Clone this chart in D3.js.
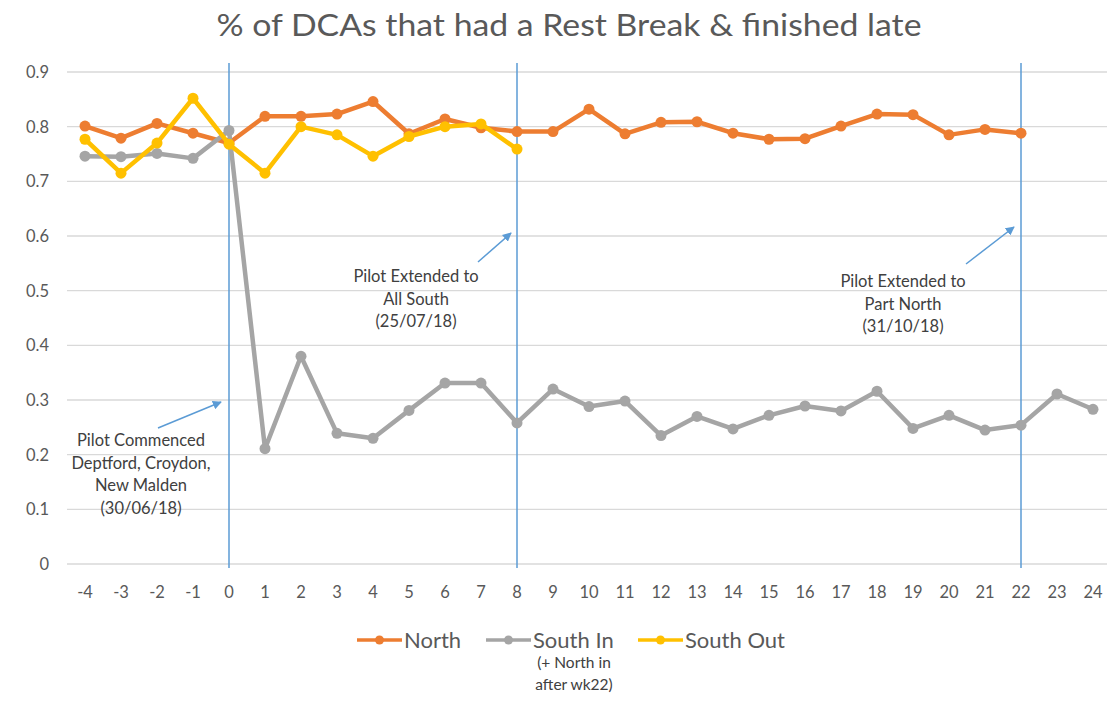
<!DOCTYPE html>
<html>
<head>
<meta charset="utf-8">
<script src="https://cdn.jsdelivr.net/npm/d3@7"></script>
<style>
  body { margin: 0; background: #fff; }
  svg { font-family: Lato, "Open Sans", sans-serif; }
</style>
</head>
<body>
<div id="chart"></div>
<script>
const weeks = d3.range(-4, 25)

// values, null where a series has no point
const north = [0.801, 0.779, 0.806, 0.788, 0.770, 0.819, 0.819, 0.823, 0.846, 0.787,
  0.814, 0.798, 0.791, 0.791, 0.832, 0.787, 0.808, 0.809, 0.788, 0.777,
  0.778, 0.801, 0.823, 0.822, 0.785, 0.795, 0.788, null, null]
const southIn = [0.746, 0.745, 0.751, 0.742, 0.793, 0.211, 0.380, 0.239, 0.230, 0.281,
  0.331, 0.331, 0.258, 0.320, 0.288, 0.298, 0.235, 0.270, 0.247, 0.272,
  0.289, 0.280, 0.316, 0.248, 0.272, 0.245, 0.254, 0.311, 0.283]
const southOut = [0.777, 0.715, 0.770, 0.852, 0.768, 0.715, 0.800, 0.785, 0.746, 0.782,
  0.800, 0.805, 0.759, null, null, null, null, null, null, null,
  null, null, null, null, null, null, null, null, null]

const yTicks = [0, 0.1, 0.2, 0.3, 0.4, 0.5, 0.6, 0.7, 0.8, 0.9]
const markerWeeks = [0, 8, 22]

const series = [
  {name: "North", values: north, color: "#ED7D31"},
  {name: "South In", values: southIn, color: "#A5A5A5"},
  {name: "South Out", values: southOut, color: "#FFC000"}
]

const annotations = [
  {lines: ["Pilot Commenced", "Deptford, Croydon,", "New Malden", "(30/06/18)"],
    x: 141, y: 440, arrow: [[158, 428], [221, 402]]},
  {lines: ["Pilot Extended to", "All South", "(25/07/18)"],
    x: 416, y: 276, arrow: [[478, 262], [511, 233]]},
  {lines: ["Pilot Extended to", "Part North", "(31/10/18)"],
    x: 903, y: 281, arrow: [[966, 264], [1014, 227]]}
]

const width = 1114, height = 702
const margin = {top: 72, right: 3, bottom: 138, left: 67}

const svg = d3.select("#chart").append("svg")
  .attr("width", width)
  .attr("height", height)

const x = d3.scalePoint()
  .domain(weeks)
  .range([margin.left, width - margin.right])
  .padding(0.5)

const y = d3.scaleLinear()
  .domain([0, 0.9])
  .range([height - margin.bottom, margin.top])

svg.append("text")
  .attr("x", 569)
  .attr("y", 36)
  .attr("text-anchor", "middle")
  .attr("font-size", 30)
  .attr("fill", "#595959")
  .attr("textLength", 705)
  .attr("lengthAdjust", "spacingAndGlyphs")
  .text("% of DCAs that had a Rest Break & finished late")

// grid
svg.append("g")
  .selectAll("line")
  .data(yTicks)
  .join("line")
    .attr("x1", margin.left)
    .attr("x2", width - 7)
    .attr("y1", d => y(d))
    .attr("y2", d => y(d))
    .attr("stroke", "#d9d9d9")
    .attr("stroke-width", 1.3)

svg.append("g")
  .selectAll("text")
  .data(yTicks)
  .join("text")
    .attr("x", 49)
    .attr("y", d => y(d) + 6)
    .attr("text-anchor", "end")
    .attr("font-size", 16.5)
    .attr("fill", "#595959")
    .text(d => d === 0 ? "0" : d3.format(".1f")(d))

svg.append("g")
  .selectAll("text")
  .data(weeks)
  .join("text")
    .attr("x", d => x(d))
    .attr("y", height - margin.bottom + 34)
    .attr("text-anchor", "middle")
    .attr("font-size", 16.5)
    .attr("fill", "#595959")
    .text(d => d)

// pilot markers
svg.append("g")
  .selectAll("line")
  .data(markerWeeks)
  .join("line")
    .attr("x1", d => x(d))
    .attr("x2", d => x(d))
    .attr("y1", 63)
    .attr("y2", height - margin.bottom + 4)
    .attr("stroke", "#5B9BD5")
    .attr("stroke-width", 1.5)

const line = d3.line()
  .defined(d => d[1] != null)
  .x(d => x(d[0]))
  .y(d => y(d[1]))

const lines = svg.append("g")
series.forEach(s => {
  const pts = weeks.map((w, i) => [w, s.values[i]])
  lines.append("path")
    .datum(pts)
    .attr("d", line)
    .attr("fill", "none")
    .attr("stroke", s.color)
    .attr("stroke-width", 4.5)
    .attr("stroke-linejoin", "round")
  lines.append("g")
    .selectAll("circle")
    .data(pts.filter(d => d[1] != null))
    .join("circle")
      .attr("cx", d => x(d[0]))
      .attr("cy", d => y(d[1]))
      .attr("r", 5.5)
      .attr("fill", s.color)
})

// annotations
svg.append("defs").append("marker")
  .attr("id", "head")
  .attr("viewBox", "0 0 10 10")
  .attr("refX", 9)
  .attr("refY", 5)
  .attr("markerWidth", 6)
  .attr("markerHeight", 6)
  .attr("orient", "auto")
  .append("path")
    .attr("d", "M0,0L10,5L0,10z")
    .attr("fill", "#5B9BD5")

annotations.forEach(a => {
  svg.append("line")
    .attr("x1", a.arrow[0][0])
    .attr("y1", a.arrow[0][1])
    .attr("x2", a.arrow[1][0])
    .attr("y2", a.arrow[1][1])
    .attr("stroke", "#5B9BD5")
    .attr("stroke-width", 1.5)
    .attr("marker-end", "url(#head)")
  svg.append("g")
    .selectAll("text")
    .data(a.lines)
    .join("text")
      .attr("x", a.x)
      .attr("y", (d, i) => a.y + 6 + i * 22.7)
      .attr("text-anchor", "middle")
      .attr("font-size", 16.5)
      .attr("fill", "#404040")
      .text(d => d)
})

// legend
const legendX = [357, 486, 638]
const legend = svg.append("g")
series.forEach((s, i) => {
  const g = legend.append("g").attr("transform", `translate(${legendX[i]},640)`)
  g.append("line")
    .attr("x1", 0).attr("x2", 45)
    .attr("stroke", s.color)
    .attr("stroke-width", 3.5)
  g.append("circle")
    .attr("cx", 22.5)
    .attr("r", 4.5)
    .attr("fill", s.color)
  g.append("text")
    .attr("x", i === 2 ? 47 : 47)
    .attr("y", 8)
    .attr("font-size", 22)
    .attr("fill", "#595959")
    .text(s.name)
})
legend.append("g")
  .selectAll("text")
  .data(["(+ North in", "after wk22)"])
  .join("text")
    .attr("x", 574)
    .attr("y", (d, i) => 668 + i * 22)
    .attr("text-anchor", "middle")
    .attr("font-size", 15.5)
    .attr("fill", "#404040")
    .text(d => d)
</script>
</body>
</html>
